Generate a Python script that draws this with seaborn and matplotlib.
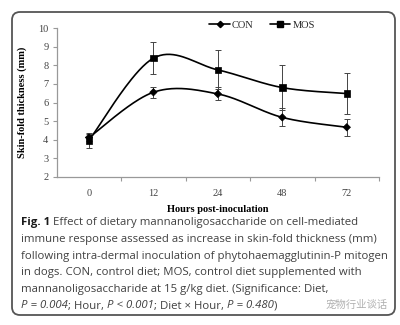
import numpy as np
import pandas as pd
import matplotlib
matplotlib.use("Agg")
import matplotlib.pyplot as plt
import seaborn as sns
from matplotlib.patches import FancyBboxPatch
from matplotlib.lines import Line2D
from matplotlib.transforms import IdentityTransform

# ---- data ----
hours = ["0", "12", "24", "48", "72"]
con = [4.12, 6.55, 6.46, 5.20, 4.67]
con_err = [0.20, 0.30, 0.35, 0.48, 0.45]
mos = [3.97, 8.38, 7.75, 6.80, 6.48]
mos_err = [0.40, 0.85, 1.05, 1.20, 1.10]
series_names = ["CON", "MOS"]
y_ticks = [2, 3, 4, 5, 6, 7, 8, 9, 10]

sns.set_theme(style="white")
plt.rcParams["font.family"] = ["Liberation Serif", "DejaVu Serif"]

W, H = 400, 325
fig = plt.figure(figsize=(W / 100, H / 100), dpi=100)

# rounded frame
frame = FancyBboxPatch((12, H - 315), 383, 303,
                       boxstyle="round,pad=0,rounding_size=8",
                       transform=IdentityTransform(), fill=False,
                       edgecolor="#555555", linewidth=1.3)
fig.patches.append(frame)

ax = fig.add_axes([56.75 / W, 1 - 177 / H, 322.25 / W, (177 - 28) / H])

xpos = np.arange(len(hours))
df = pd.DataFrame({
    "x": np.concatenate([xpos, xpos]),
    "y": con + mos,
    "diet": [series_names[0]] * len(hours) + [series_names[1]] * len(hours),
})


def smooth(xs, ys, n=40):
    pts = np.column_stack([xs, ys]).astype(float)
    out = []
    m = len(pts)
    for i in range(m - 1):
        p0 = pts[max(i - 1, 0)]
        p1 = pts[i]
        p2 = pts[i + 1]
        p3 = pts[min(i + 2, m - 1)]
        c1 = p1 + (p2 - p0) / 6.0
        c2 = p2 - (p3 - p1) / 6.0
        t = np.linspace(0, 1, n)[:, None]
        seg = ((1 - t) ** 3) * p1 + 3 * ((1 - t) ** 2) * t * c1 + 3 * (1 - t) * t ** 2 * c2 + t ** 3 * p2
        out.append(seg if i == 0 else seg[1:])
    return np.vstack(out)


for vals in (con, mos):
    c = smooth(xpos, vals)
    ax.plot(c[:, 0], c[:, 1], color="black", lw=1.2, zorder=2)

ax.errorbar(xpos, con, yerr=con_err, fmt="none", ecolor="#444444",
            elinewidth=0.7, capsize=2.5, capthick=0.7, zorder=3)
ax.errorbar(xpos, mos, yerr=mos_err, fmt="none", ecolor="#444444",
            elinewidth=0.7, capsize=2.5, capthick=0.7, zorder=3)

sns.scatterplot(data=df, x="x", y="y", style="diet",
                markers={"CON": "D", "MOS": "s"},
                hue="diet", palette={"CON": "black", "MOS": "black"},
                size="diet", sizes={"CON": 14, "MOS": 22},
                edgecolor="black", linewidth=0.5, legend=False,
                ax=ax, zorder=4)

ax.set_xlim(-0.5, len(hours) - 0.5)
ax.set_ylim(2, 10)
ax.set_yticks(y_ticks)
ax.set_yticklabels([str(v) for v in y_ticks])
ax.set_xticks(xpos)
ax.set_xticklabels(hours)
ax.set_xticks(np.arange(len(hours)) + 0.5, minor=True)
ax.tick_params(axis="x", which="major", length=0, pad=9, labelsize=7.5, labelcolor="#444444")
ax.tick_params(axis="x", which="minor", length=3, width=0.8, color="#999999", direction="out", bottom=True)
ax.tick_params(axis="y", which="major", length=3, width=0.8, color="#999999", direction="out",
               left=True, labelsize=7.5, labelcolor="#444444", pad=3)

for s in ("top", "right"):
    ax.spines[s].set_visible(False)
for s in ("left", "bottom"):
    ax.spines[s].set_color("#999999")
    ax.spines[s].set_linewidth(0.9)

ax.set_xlabel("Hours post-inoculation", fontsize=7.5, fontweight="bold", color="black", labelpad=5)
ax.set_ylabel("Skin-fold thickness (mm)", fontsize=7.5, fontweight="bold", color="black", labelpad=8)

handles = [
    Line2D([], [], color="black", lw=1.2, marker="D", markersize=3.2),
    Line2D([], [], color="black", lw=1.2, marker="s", markersize=4),
]
fig.legend(handles, series_names, loc="center", bbox_to_anchor=(262 / W, 1 - 25 / H),
           ncol=2, frameon=False, fontsize=7.5, handlelength=2.0, handletextpad=0.2,
           columnspacing=1.5)

# ---- caption ----
cap_font = ["Open Sans", "DejaVu Sans"]
cap_color = "#404040"
cap_size = 8.2
lines = [
    [("Fig. 1", "normal", "bold"), (" Effect of dietary mannanoligosaccharide on cell-mediated", "normal", "normal")],
    [("immune response assessed as increase in skin-fold thickness (mm)", "normal", "normal")],
    [("following intra-dermal inoculation of phytohaemagglutinin-P mitogen", "normal", "normal")],
    [("in dogs. CON, control diet; MOS, control diet supplemented with", "normal", "normal")],
    [("mannanoligosaccharide at 15 g/kg diet. (Significance: Diet,", "normal", "normal")],
    [("P = 0.004", "italic", "normal"), ("; Hour, ", "normal", "normal"), ("P < 0.001", "italic", "normal"),
     ("; Diet \u00d7 Hour, ", "normal", "normal"), ("P = 0.480", "italic", "normal"), (")", "normal", "normal")],
]
fig.canvas.draw()
renderer = fig.canvas.get_renderer()
x0 = 21
y_first = 223
step = 16.6
for i, parts in enumerate(lines):
    x = x0
    y = H - (y_first + i * step)
    for txt, style, weight in parts:
        t = fig.text(x / W, y / H, txt, family=cap_font, fontsize=cap_size, style=style,
                     fontweight=weight, color="#1a1a1a" if weight == "bold" else cap_color,
                     va="center", ha="left")
        bb = t.get_window_extent(renderer=renderer)
        x += bb.width

fig.text(388 / W, 1 - 305 / H, "宠物行业谈话", family=["Noto Sans CJK SC", "DejaVu Sans"],
         fontsize=7.5, color="#b0b0b0", ha="right", va="center")

fig.savefig("out.png", dpi=100)
